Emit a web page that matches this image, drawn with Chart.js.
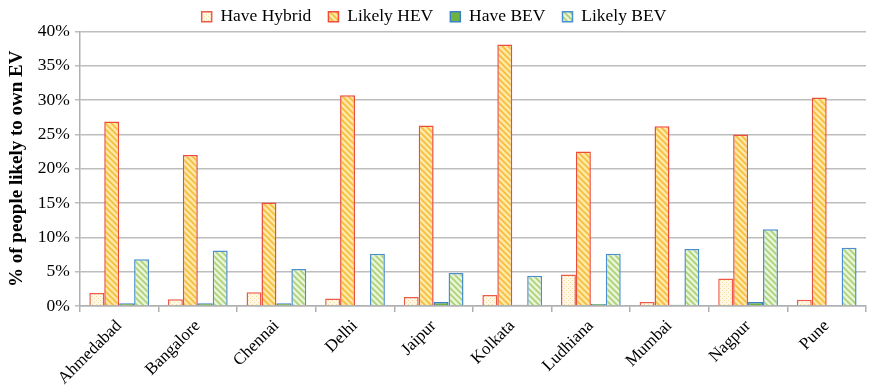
<!DOCTYPE html>
<html>
<head>
<meta charset="utf-8">
<script src="https://cdn.jsdelivr.net/npm/chart.js@4"></script>
<style>
  html, body { margin: 0; padding: 0; background: #fff; }
  #wrap { width: 874px; height: 389px; position: relative; }
</style>
</head>
<body>
<div id="wrap"><canvas id="c" width="874" height="389"></canvas></div>
<script>
// Share of people who have / are likely to own an EV, by city (%)
const cities = ['Ahmedabad', 'Bangalore', 'Chennai', 'Delhi', 'Jaipur', 'Kolkata', 'Ludhiana', 'Mumbai', 'Nagpur', 'Pune'];
const haveHybrid = [1.9, 1.0, 2.0, 1.1, 1.3, 1.6, 4.6, 0.6, 4.0, 0.9];
const likelyHEV  = [26.9, 22.0, 15.1, 30.7, 26.3, 38.1, 22.5, 26.2, 25.0, 30.4];
const haveBEV    = [0.4, 0.4, 0.4, 0.0, 0.6, 0.2, 0.3, 0.2, 0.6, 0.0];
const likelyBEV  = [6.8, 8.1, 5.4, 7.6, 4.8, 4.4, 7.6, 8.3, 11.2, 8.5];
const yTicks = [0, 5, 10, 15, 20, 25, 30, 35, 40];

// Hatched fills
function stripes(bg, fg) {
  const s = 6, cv = document.createElement('canvas');
  cv.width = s; cv.height = s;
  const g = cv.getContext('2d');
  g.fillStyle = bg; g.fillRect(0, 0, s, s);
  g.strokeStyle = fg; g.lineWidth = 1.6;
  g.beginPath();
  g.moveTo(0, 0); g.lineTo(s, s);
  g.moveTo(-s, 0); g.lineTo(s, 2 * s);
  g.moveTo(0, -s); g.lineTo(2 * s, s);
  g.stroke();
  return g.createPattern(cv, 'repeat');
}
function dots(bg, fg) {
  const s = 4, cv = document.createElement('canvas');
  cv.width = s; cv.height = s;
  const g = cv.getContext('2d');
  g.fillStyle = bg; g.fillRect(0, 0, s, s);
  g.fillStyle = fg;
  g.fillRect(0, 0, 1, 1); g.fillRect(2, 2, 1, 1);
  return g.createPattern(cv, 'repeat');
}

// Keep the legend band compact so the plot starts close under it
const compactLegend = {
  id: 'compactLegend',
  beforeUpdate(chart) {
    const lg = chart.legend;
    if (lg && !lg._compact) {
      const fit = lg.fit.bind(lg);
      lg.fit = function () { fit(); this.height -= 4; };
      lg._compact = true;
    }
  }
};

const serif = "'Liberation Serif', 'Times New Roman', serif";

new Chart(document.getElementById('c'), {
  type: 'bar',
  data: {
    labels: cities,
    datasets: [
      { label: 'Have Hybrid', data: haveHybrid, backgroundColor: dots('#fff8e6', '#f3dca0'), borderColor: '#ec5a48', borderWidth: 1.5 },
      { label: 'Likely HEV', data: likelyHEV, backgroundColor: stripes('#fde8a6', '#f5bd3a'), borderColor: '#ec4c3c', borderWidth: 1.5 },
      { label: 'Have BEV', data: haveBEV, backgroundColor: '#6db33f', borderColor: '#3d7fc8', borderWidth: 1.5 },
      { label: 'Likely BEV', data: likelyBEV, backgroundColor: stripes('#eaf4d6', '#a9d274'), borderColor: '#4b8fd2', borderWidth: 1.5 }
    ]
  },
  plugins: [compactLegend],
  options: {
    responsive: false,
    animation: false,
    devicePixelRatio: 1,
    layout: { autoPadding: false, padding: { left: 2, right: 8, top: 4, bottom: 0 } },
    datasets: { bar: { categoryPercentage: 0.76, barPercentage: 1.0 } },
    plugins: {
      tooltip: { enabled: false },
      legend: {
        position: 'top',
        labels: {
          font: { family: serif, size: 17.5 },
          color: '#000',
          boxWidth: 10, boxHeight: 10,
          padding: 4,
          // trailing spaces widen the gap between legend entries
          generateLabels: (chart) => {
            const items = Chart.defaults.plugins.legend.labels.generateLabels(chart);
            items.forEach((it, i) => { if (i < items.length - 1) it.text += '   '; });
            return items;
          }
        }
      }
    },
    scales: {
      x: {
        afterFit: (axis) => { axis.height = 83; },
        grid: { drawOnChartArea: false, drawTicks: true, tickLength: 6, color: '#b0b0b0', lineWidth: 1.5, offset: true },
        border: { color: '#b0b0b0', width: 1.5 },
        ticks: { font: { family: serif, size: 17 }, color: '#000', maxRotation: 45, minRotation: 45, padding: 4 }
      },
      y: {
        min: 0, max: 40,
        afterBuildTicks: (axis) => { axis.ticks = yTicks.map(v => ({ value: v })); },
        grid: { color: '#bdbdbd', lineWidth: 1.5, drawTicks: true, tickLength: 5 },
        border: { color: '#b0b0b0', width: 1.5 },
        ticks: { font: { family: serif, size: 17.5 }, color: '#000', padding: 5, callback: v => v + '%' },
        title: { display: true, text: '% of people likely to own EV', font: { family: serif, size: 19, weight: 'bold' }, color: '#000', padding: 4 }
      }
    }
  }
});
</script>
</body>
</html>
